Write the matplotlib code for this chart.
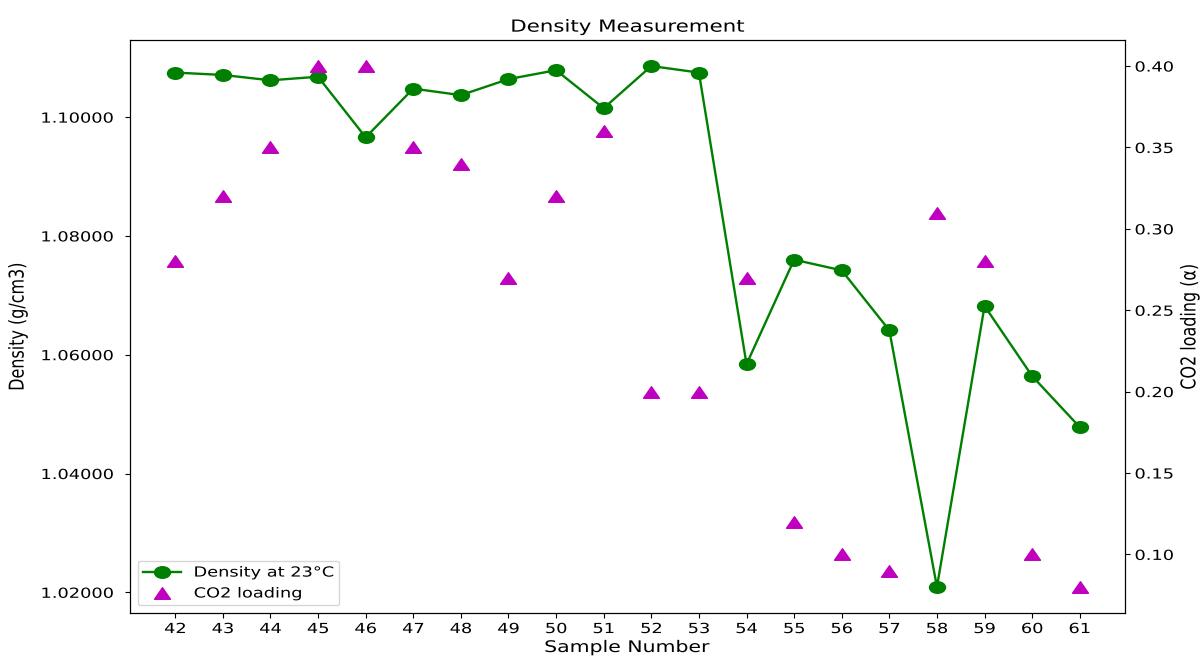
import numpy as np
import matplotlib
matplotlib.use("Agg")
import matplotlib.pyplot as plt
from matplotlib.path import Path
from matplotlib.patheffects import AbstractPathEffect
from matplotlib.transforms import Affine2D, Bbox
from matplotlib.offsetbox import TextArea
from matplotlib.ticker import FormatStrFormatter

# Sample data
samples = list(range(42, 62))
density = [1.1075, 1.1071, 1.1062, 1.1068, 1.0966, 1.1048, 1.1037, 1.1064, 1.1079, 1.1015,
           1.1086, 1.1075, 1.0584, 1.0760, 1.0742, 1.0641, 1.0209, 1.0682, 1.0564, 1.0478]
co2_loading = [0.28, 0.32, 0.35, 0.40, 0.40, 0.35, 0.34, 0.27, 0.32, 0.36,
               0.20, 0.20, 0.27, 0.12, 0.10, 0.09, 0.31, 0.28, 0.10, 0.08]
density_ticks = [1.02, 1.04, 1.06, 1.08, 1.10]
co2_ticks = [0.10, 0.15, 0.20, 0.25, 0.30, 0.35, 0.40]

SX_TEXT = 1.28   # horizontal widening of glyphs
SX_MARK = 1.38   # horizontal widening of markers


class WideText(AbstractPathEffect):
    """Widen text horizontally around its left/right edge or centre."""

    def __init__(self, sx, anchor="center"):
        super().__init__()
        self.sx = sx
        self.anchor = anchor

    def draw_path(self, renderer, gc, tpath, affine, rgbFace=None):
        ext = tpath.transformed(affine).get_extents()
        if self.anchor == "left":
            x0 = ext.x0
        elif self.anchor == "right":
            x0 = ext.x1
        else:
            x0 = 0.5 * (ext.x0 + ext.x1)
        wide = affine + Affine2D().translate(-x0, 0).scale(self.sx, 1).translate(x0, 0)
        renderer.draw_path(gc, tpath, wide, rgbFace)


def wide(anchor):
    return [WideText(SX_TEXT, anchor)]


# Wide marker shapes
circ = Path.unit_circle()
wide_circle = Path(circ.vertices * np.array([SX_MARK, 1.0]), circ.codes)
wide_triangle = Path([(0, 1), (-SX_MARK, -1), (SX_MARK, -1), (0, 1)],
                     [Path.MOVETO, Path.LINETO, Path.LINETO, Path.CLOSEPOLY])

fig = plt.figure(figsize=(12, 6.57), dpi=100)
ax1 = fig.add_axes([130 / 1200, 1 - 613 / 657, 995 / 1200, 573 / 657])
ax2 = ax1.twinx()

l1, = ax1.plot(samples, density, color="g", marker=wide_circle, markersize=11.5,
               linewidth=1.7, label="Density at 23°C")
l2, = ax2.plot(samples, co2_loading, linestyle="none", color="m", marker=wide_triangle,
               markersize=11.5, label="CO2 loading")

ax1.set_xticks(samples)
ax1.set_yticks(density_ticks)
ax1.yaxis.set_major_formatter(FormatStrFormatter("%.5f"))
ax2.set_yticks(co2_ticks)
ax2.yaxis.set_major_formatter(FormatStrFormatter("%.2f"))

ax1.tick_params(axis="x", labelsize=10, pad=3.0)
ax1.tick_params(axis="y", labelsize=10, pad=8.5)
ax2.tick_params(axis="y", labelsize=10, pad=3.5)

ax1.set_title("Density Measurement", fontsize=12, path_effects=wide("center"))
ax1.set_xlabel("Sample Number", fontsize=11.5, path_effects=wide("center"))
ax1.set_ylabel("Density (g/cm3)", fontsize=11.5, path_effects=wide("right"))
ax2.set_ylabel("CO2 loading (α)", fontsize=11.5, path_effects=wide("left"))
ax1.xaxis.set_label_coords(0.5, (613 - 640) / 573)
ax1.xaxis.label.set_verticalalignment("top")
ax1.yaxis.set_label_coords(-0.103, 0.5)
ax2.yaxis.set_label_coords(1.0553, 0.5)

for t in ax1.xaxis.get_major_ticks():
    t.label1.set_path_effects(wide("center"))
for t in ax1.yaxis.get_major_ticks():
    t.label1.set_path_effects(wide("right"))
for t in ax2.yaxis.get_major_ticks():
    t.label2.set_path_effects(wide("left"))
    t.label1.set_path_effects(wide("right"))

leg = ax2.legend([l1, l2], [l1.get_label(), l2.get_label()], loc="lower left",
                 fontsize=10, handlelength=2.8, handletextpad=0.9, borderpad=0.35,
                 borderaxespad=0.55)
for txt in leg.get_texts():
    txt.set_path_effects(wide("left"))


def _widen_area(area):
    orig = area.get_bbox

    def get_bbox(renderer):
        b = orig(renderer)
        return Bbox.from_bounds(b.x0, b.y0, b.width * SX_TEXT, b.height)

    area.get_bbox = get_bbox


try:
    for col in leg._legend_handle_box.get_children():
        for item in col.get_children():
            for child in item.get_children():
                if isinstance(child, TextArea):
                    _widen_area(child)
except AttributeError:
    pass

fig.savefig("out.png", dpi=100)
